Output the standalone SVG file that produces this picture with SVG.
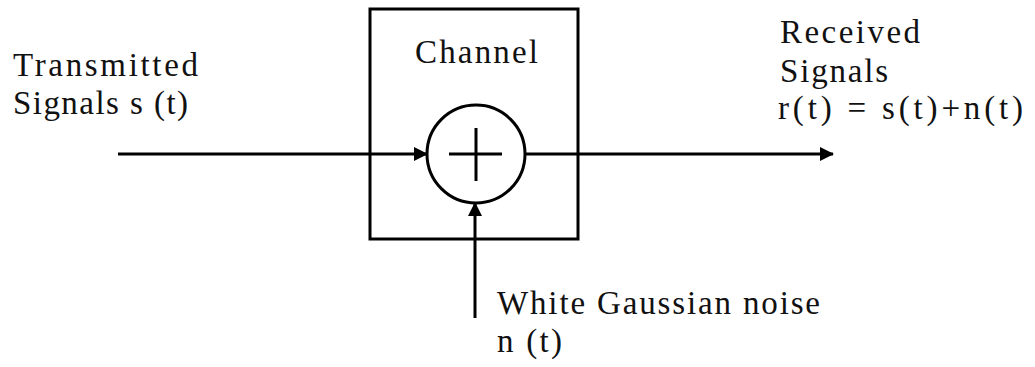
<svg xmlns="http://www.w3.org/2000/svg" width="1035" height="367" viewBox="0 0 1035 367">
<style>
.ln{stroke:#000;stroke-width:3;fill:none}
.t{font-family:"Liberation Serif",serif;font-size:33px;fill:#111}
</style>
<defs>
<marker id="ah" markerWidth="14" markerHeight="14" refX="13" refY="7" orient="auto" markerUnits="userSpaceOnUse">
<path d="M0,0 L14,7 L0,14 Z" fill="#000"/>
</marker>
</defs>
<rect width="1035" height="367" fill="#fff"/>
<g id="channel">
<rect class="ln" x="370" y="9" width="208" height="230"/>
<text class="t" x="415" y="63" textLength="123" lengthAdjust="spacing">Channel</text>
</g>
<g id="adder">
<circle class="ln" cx="476" cy="154" r="49" fill="#fff"/>
<line class="ln" x1="449" y1="154" x2="502" y2="154"/>
<line class="ln" x1="476" y1="128" x2="476" y2="181"/>
</g>
<g id="input">
<text class="t" x="13" y="76" textLength="185" lengthAdjust="spacing">Transmitted</text>
<text class="t" x="13" y="114" textLength="175" lengthAdjust="spacing">Signals s (t)</text>
</g>
<g id="output">
<text class="t" x="780" y="43" textLength="140" lengthAdjust="spacing">Received</text>
<text class="t" x="780" y="82" textLength="108" lengthAdjust="spacing">Signals</text>
<text class="t" x="778" y="119" textLength="245" lengthAdjust="spacing">r(t) = s(t)+n(t)</text>
</g>
<g id="noise">
<text class="t" x="497" y="314" textLength="323" lengthAdjust="spacing">White Gaussian noise</text>
<text class="t" x="497" y="352" textLength="65" lengthAdjust="spacing">n (t)</text>
</g>
<g id="connectors">
<line class="ln" x1="118" y1="154" x2="427" y2="154" marker-end="url(#ah)"/>
<line class="ln" x1="525" y1="154" x2="833" y2="154" marker-end="url(#ah)"/>
<line class="ln" x1="475" y1="318" x2="475" y2="203" marker-end="url(#ah)"/>
</g>
</svg>
